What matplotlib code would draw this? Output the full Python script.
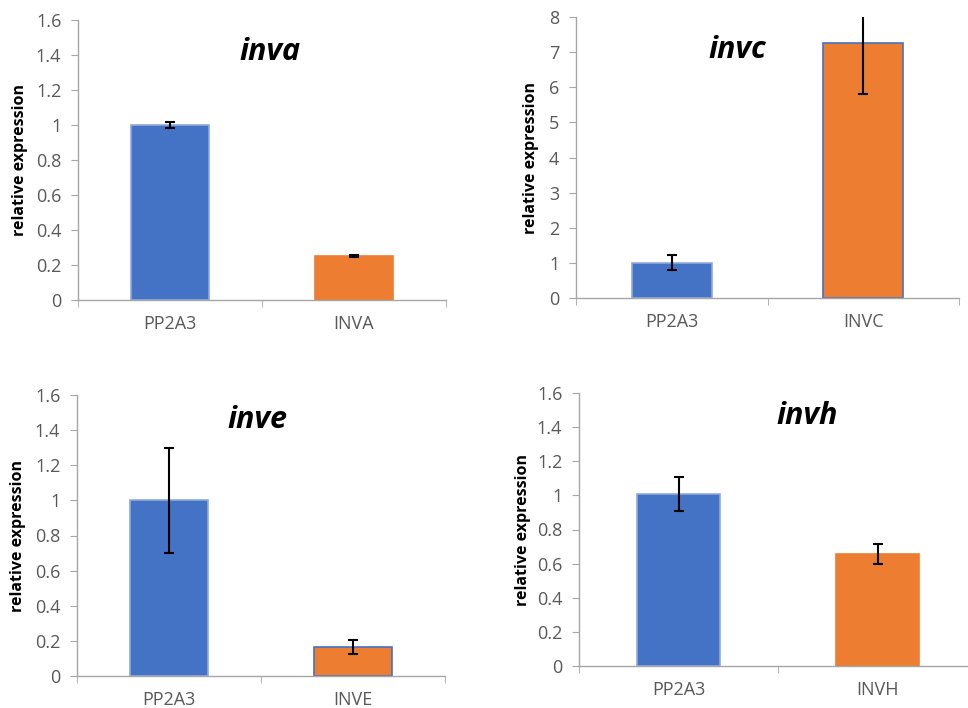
import matplotlib
matplotlib.use("Agg")
import matplotlib.pyplot as plt
import numpy as np

# values
titles = ["inva", "invc", "inve", "invh"]
categories = [["PP2A3", "INVA"], ["PP2A3", "INVC"], ["PP2A3", "INVE"], ["PP2A3", "INVH"]]
values = [[1.0, 0.252], [1.0, 7.26], [1.0, 0.166], [1.01, 0.655]]
errors = [[0.015, 0.008], [0.21, 1.44], [0.30, 0.038], [0.10, 0.06]]
ymax = [1.6, 8, 1.6, 1.6]
ystep = [0.2, 1, 0.2, 0.2]

BLUE = "#4472C4"
ORANGE = "#ED7D31"
GRID = "#A6A6A6"
TICK = "#595959"

plt.rcParams["font.family"] = ["Open Sans", "DejaVu Sans"]

W, H = 968, 708
fig = plt.figure(figsize=(W / 100, H / 100), dpi=100)

# axes boxes in pixels: left, top, right, bottom
boxes = [(78, 20, 446, 300), (576, 17, 959, 298), (77, 395, 445, 676), (579, 393, 977, 666)]
# title centres and y-label right edges, in pixels
title_pos = [(270, 52), (737, 50), (257, 420), (807, 416)]
ylab_x = [28, 539, 26, 531]
# bar edge colours (some bars carry a blue outline in the original)
edges = [["#8FAADC", ORANGE], ["#8FAADC", BLUE], ["#8FAADC", BLUE], ["#8FAADC", ORANGE]]


def fmt(v):
    return "%g" % round(v, 2)


for i in range(4):
    l, t, r, b = boxes[i]
    ax = fig.add_axes([l / W, 1 - b / H, (r - l) / W, (b - t) / H])
    x = np.arange(2)
    ax.bar(x, values[i], width=0.42, color=[BLUE, ORANGE], edgecolor=edges[i], linewidth=1.2, zorder=2)
    ax.errorbar(x, values[i], yerr=errors[i], fmt="none", ecolor="black", elinewidth=1.5,
                capsize=3.5, capthick=1.5, zorder=3)
    ax.set_xlim(-0.5, 1.5)
    ax.set_ylim(0, ymax[i])
    yt = np.arange(0, ymax[i] + ystep[i] / 2, ystep[i])
    ax.set_yticks(yt)
    ax.set_yticklabels([fmt(v) for v in yt])
    ax.set_xticks(x)
    ax.set_xticklabels(categories[i])
    ax.set_xticks([-0.5, 0.5, 1.5], minor=True)

    for s in ["top", "right"]:
        ax.spines[s].set_visible(False)
    for s in ["left", "bottom"]:
        ax.spines[s].set_color(GRID)
        ax.spines[s].set_linewidth(1.0)
    ax.tick_params(axis="y", which="major", length=5, color=GRID, labelsize=13, labelcolor=TICK, pad=7)
    ax.tick_params(axis="x", which="major", length=0, labelsize=13, labelcolor=TICK, pad=11)
    ax.tick_params(axis="x", which="minor", length=5, color=GRID)

    ax.set_ylabel("relative expression", fontsize=11.5, fontweight="bold", color="black")
    ax.yaxis.set_label_coords((ylab_x[i] - l) / (r - l), 0.5)

    tx, ty = title_pos[i]
    fig.text(tx / W, 1 - ty / H, titles[i], fontsize=22, fontweight="bold", fontstyle="italic",
             ha="center", va="center")

fig.savefig("out.png", dpi=100)
